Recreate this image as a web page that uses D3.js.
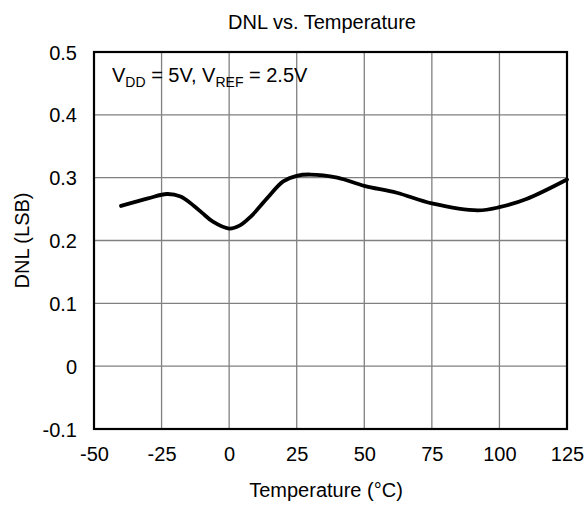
<!DOCTYPE html>
<html>
<head>
<meta charset="utf-8">
<script src="https://cdn.jsdelivr.net/npm/d3@7"></script>
<style>
  html, body { margin: 0; padding: 0; background: #fff; }
  svg { display: block; font-family: "Liberation Sans", Arial, sans-serif; }
</style>
</head>
<body>
<svg id="chart" width="585" height="508"></svg>
<script>
const temperatures = [-40, -30, -23, -18, -13, -10, -6, 0, 4, 8, 14, 20, 25, 30, 40, 50, 62, 75, 92, 100, 110, 125];
const dnlValues    = [0.255, 0.267, 0.274, 0.270, 0.255, 0.244, 0.230, 0.219, 0.224, 0.238, 0.267, 0.294, 0.303, 0.305, 0.300, 0.287, 0.276, 0.259, 0.248, 0.253, 0.266, 0.297];
const xTicks = [-50, -25, 0, 25, 50, 75, 100, 125];
const yTicks = [-0.1, 0, 0.1, 0.2, 0.3, 0.4, 0.5];
const chartTitle = "DNL vs. Temperature";
const xTitle = "Temperature (°C)";
const yTitle = "DNL (LSB)";

(function () {
const svg = d3.select("#chart");
const pL = 94, pR = 567, pT = 52, pB = 429;

const x = d3.scaleLinear().domain([-50, 125]).range([pL, pR]);
const y = d3.scaleLinear().domain([-0.1, 0.5]).range([pB, pT]);

// grid
const grid = svg.append("g");
grid.selectAll("line.v").data(xTicks).enter().append("line")
  .attr("x1", d => x(d)).attr("x2", d => x(d))
  .attr("y1", pT).attr("y2", pB)
  .attr("stroke", "#808080").attr("stroke-width", 1.3);
grid.selectAll("line.h").data(yTicks).enter().append("line")
  .attr("x1", pL).attr("x2", pR)
  .attr("y1", d => y(d)).attr("y2", d => y(d))
  .attr("stroke", "#808080").attr("stroke-width", 1.3);

// axes (labels only)
const fmtY = d => d === 0 ? "0" : d3.format(".1f")(d).replace("−", "-");
const xAxis = d3.axisBottom(x).tickValues(xTicks).tickSize(0).tickPadding(0).tickFormat(d => String(d));
const yAxis = d3.axisLeft(y).tickValues(yTicks).tickSize(0).tickPadding(0).tickFormat(fmtY);

const gx = svg.append("g").attr("transform", `translate(0,${pB})`).call(xAxis);
gx.select(".domain").remove();
gx.selectAll("text").attr("font-size", 20).attr("fill", "#000")
  .attr("font-family", "Liberation Sans, Arial, sans-serif")
  .attr("dy", null).attr("y", 32);

const gy = svg.append("g").attr("transform", `translate(${pL - 17},0)`).call(yAxis);
gy.select(".domain").remove();
gy.selectAll("text").attr("font-size", 20).attr("fill", "#000")
  .attr("font-family", "Liberation Sans, Arial, sans-serif")
  .attr("x", 0).attr("dy", "0.35em");

// border
svg.append("rect").attr("x", pL).attr("y", pT)
  .attr("width", pR - pL).attr("height", pB - pT)
  .attr("fill", "none").attr("stroke", "#000").attr("stroke-width", 2.2);

// line
const line = d3.line().x((d, i) => x(temperatures[i])).y(d => y(d)).curve(d3.curveCatmullRom.alpha(0.5));
svg.append("path").datum(dnlValues).attr("d", line)
  .attr("fill", "none").attr("stroke", "#000").attr("stroke-width", 3.8)
  .attr("stroke-linejoin", "round").attr("stroke-linecap", "round");

// titles
svg.append("text").attr("x", 322).attr("y", 29).attr("text-anchor", "middle")
  .attr("font-size", 20).text(chartTitle);
svg.append("text").attr("x", 326).attr("y", 497).attr("text-anchor", "middle")
  .attr("font-size", 20).text(xTitle);
svg.append("text").attr("transform", `translate(29,${(pT + pB) / 2}) rotate(-90)`)
  .attr("text-anchor", "middle").attr("font-size", 20).text(yTitle);

// annotation
const ann = svg.append("text").attr("x", 112).attr("y", 82).attr("font-size", 20);
ann.append("tspan").text("V");
ann.append("tspan").attr("font-size", 14).attr("dy", 5).text("DD");
ann.append("tspan").attr("dy", -5).text(" = 5V, V");
ann.append("tspan").attr("font-size", 14).attr("dy", 5).text("REF");
ann.append("tspan").attr("dy", -5).text(" = 2.5V");
})();
</script>
</body>
</html>
